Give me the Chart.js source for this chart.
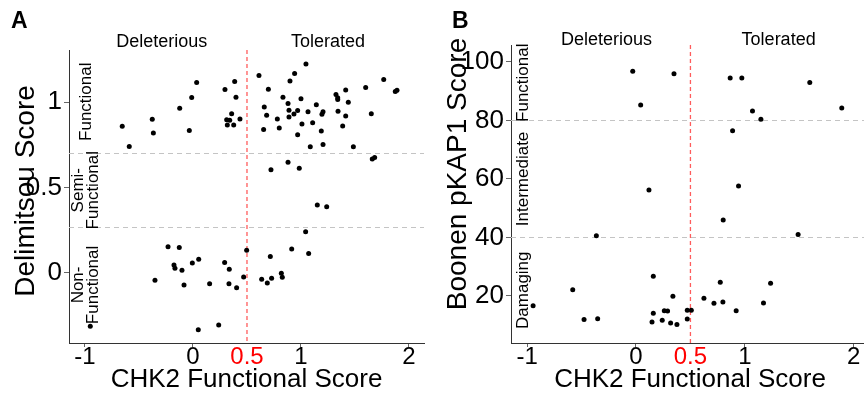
<!DOCTYPE html>
<html>
<head>
<meta charset="utf-8">
<script src="https://cdn.jsdelivr.net/npm/chart.js@4.4.1/dist/chart.umd.min.js"></script>
<style>
  html, body { margin:0; padding:0; background:#fff; overflow:hidden; width:864px; height:396px; }
  #wa { position:absolute; left:0; top:0; width:432px; height:396px; }
  #wb { position:absolute; left:432px; top:0; width:440px; height:396px; }
</style>
</head>
<body>
<div id="wa"><canvas id="ca" width="432" height="396"></canvas></div>
<div id="wb"><canvas id="cb" width="440" height="396"></canvas></div>
<script>
// ---------- DATA ----------
const aX = [-0.655,-0.59,-0.377,-0.367,-0.123,-0.034,-0.012,0.034,0.296,0.386,0.398,0.358,0.312,0.34,0.435,0.318,0.377,
  0.611,0.698,0.833,0.941,0.898,1.046,0.66,0.682,0.654,0.781,0.799,0.88,0.889,0.889,0.935,0.969,1.0,1.009,0.969,1.065,1.108,
  1.142,1.204,1.194,1.188,1.086,1.204,1.324,1.34,1.34,1.414,1.438,1.343,1.414,1.386,1.485,1.599,1.651,1.766,1.873,1.889,
  1.66,1.682,0.88,0.984,0.722,1.151,1.238,1.043,0.914,1.071,0.716,0.497,0.469,0.636,0.688,0.728,0.818,0.827,
  -0.231,-0.127,-0.176,-0.167,-0.102,-0.006,0.053,-0.352,-0.083,0.154,0.293,0.336,0.333,0.404,-0.951,0.049,0.238];
const aY = [0.859,0.741,0.90,0.82,0.965,0.834,1.028,1.116,1.075,1.122,1.029,0.933,0.898,0.894,0.902,0.867,0.867,
  1.157,1.076,1.029,1.169,1.125,1.224,0.972,0.924,0.841,0.902,0.849,0.992,0.953,0.914,0.931,0.951,1.02,0.872,0.81,0.945,0.88,
  0.986,0.945,0.929,0.831,0.739,0.753,1.045,1.027,1.016,1.072,1.0,0.947,0.919,0.861,0.739,1.086,0.933,1.133,1.063,1.071,
  0.667,0.676,0.649,0.614,0.604,0.398,0.388,0.241,0.141,0.114,0.096,0.133,-0.024,-0.037,-0.059,-0.031,-0.002,-0.025,
  0.153,0.149,0.047,0.028,0.016,0.059,0.08,-0.043,-0.071,-0.063,0.061,0.022,-0.063,-0.086,-0.312,-0.333,-0.304];

const bX = [-0.03,0.349,0.043,0.119,0.865,0.972,1.596,1.89,1.07,1.147,0.887,0.942,0.801,1.489,0.774,1.236,0.624,0.716,
  0.798,0.92,1.171,0.471,0.508,0.471,-0.364,0.159,-0.581,-0.945,-0.477,-0.352,0.339,0.159,0.26,0.29,0.147,0.241,0.318,0.376];
const bY = [96.8,96.0,85.3,56.2,94.5,94.5,93.0,84.3,83.2,80.4,76.5,57.6,46.0,41.0,24.7,24.3,19.2,17.5,
  17.9,14.9,17.6,15.1,15.1,12.1,40.6,26.7,22.1,16.6,11.9,12.2,19.9,14.1,14.9,14.8,11.1,11.7,10.7,10.2];

const xTicks = [-1, 0, 0.5, 1, 2];
const aYTicks = [0, 0.5, 1];
const bYTicks = [20, 40, 60, 80, 100];
const xCut = 0.5;
const aCuts = [0.7, 0.27];
const bCuts = [80, 40];
const aRegions = [ {lines:['Functional'], lo:0.7, hi:1.306}, {lines:['Semi-','Functional'], lo:0.27, hi:0.7}, {lines:['Non-','Functional'], lo:-0.41, hi:0.27} ];
const bRegions = [ {lines:['Functional'], lo:80, hi:105.8}, {lines:['Intermediate'], lo:40, hi:80}, {lines:['Damaging'], lo:3.9, hi:40} ];
const sideLabels = ['Deleterious', 'Tolerated'];

const FONT = "'Liberation Sans', Arial, sans-serif";

function toPts(xs, ys){ return xs.map((x,i)=>({x:x, y:ys[i]})); }

function makeChart(id, cfg){
  const overlay = {
    id:'overlay',
    beforeDatasetsDraw(chart){
      const {ctx, chartArea:ca, scales:{x, y}} = chart;
      ctx.save();
      // horizontal gray dashed lines
      ctx.strokeStyle = '#c4c4c4'; ctx.lineWidth = 1; ctx.setLineDash([5,4]);
      cfg.cuts.forEach(v=>{
        const py = Math.round(y.getPixelForValue(v))+0.5;
        ctx.beginPath(); ctx.moveTo(ca.left, py); ctx.lineTo(ca.right, py); ctx.stroke();
      });
      // vertical red dashed line
      ctx.strokeStyle = '#ff5c5c'; ctx.lineWidth = 1.3; ctx.setLineDash([4,3]);
      const px = x.getPixelForValue(xCut);
      ctx.beginPath(); ctx.moveTo(px, ca.top); ctx.lineTo(px, ca.bottom); ctx.stroke();
      ctx.setLineDash([]);
      // region labels (rotated)
      ctx.fillStyle = '#000';
      ctx.font = '17px ' + FONT;
      ctx.textAlign = 'center'; ctx.textBaseline = 'middle';
      cfg.regions.forEach(r=>{
        const cy = (y.getPixelForValue(r.lo) + y.getPixelForValue(r.hi))/2;
        const n = r.lines.length;
        r.lines.forEach((t, i)=>{
          const cx = ca.left + cfg.regionOffset + (i - (n-1)/2) * 15;
          ctx.save(); ctx.translate(cx, cy); ctx.rotate(-Math.PI/2);
          ctx.fillText(t, 0, 0); ctx.restore();
        });
      });
      // Deleterious / Tolerated
      ctx.font = '18px ' + FONT;
      ctx.fillText(sideLabels[0], x.getPixelForValue(cfg.sideX[0]), cfg.sideY);
      ctx.fillText(sideLabels[1], x.getPixelForValue(cfg.sideX[1]), cfg.sideY);
      // y axis title
      ctx.font = '28px ' + FONT;
      ctx.save(); ctx.translate(cfg.ytitleX, cfg.ytitleY); ctx.rotate(-Math.PI/2);
      ctx.fillText(cfg.ytitle, 0, 0); ctx.restore();
      // panel letter
      ctx.font = 'bold 23px ' + FONT;
      ctx.textAlign = 'left';
      ctx.fillText(cfg.letter, cfg.letterX, 22);
      ctx.restore();
    }
  };
  return new Chart(document.getElementById(id), {
    type:'scatter',
    data:{ datasets:[{ data: toPts(cfg.xs, cfg.ys), backgroundColor:'#000', borderColor:'#000', pointRadius:2.5, pointHoverRadius:2.5, borderWidth:0 }] },
    options:{
      responsive:false, animation:false, events:[],
      layout:{ padding:{ top:cfg.top, right:cfg.right, bottom:0, left:0 } },
      plugins:{ legend:{display:false}, tooltip:{enabled:false} },
      scales:{
        x:{
          type:'linear', min:-1.148, max:cfg.xmax,
          afterBuildTicks(s){ s.ticks = xTicks.map(v=>({value:v})); },
          afterFit(s){ s.height = 53; },
          border:{ display:true, color:'#333', width:1 },
          grid:{ drawOnChartArea:false, drawTicks:true, tickLength:4, tickColor:(c)=> (c.tick && c.tick.value===0.5) ? 'rgba(0,0,0,0)' : '#666' },
          ticks:{ font:{family:FONT, size:24}, color:(c)=> (c.tick && c.tick.value===0.5) ? '#ff0000' : '#000', padding:-4, maxRotation:0, autoSkip:false,
                  callback:(v)=> String(v) },
          title:{ display:true, text:'CHK2 Functional Score', font:{family:FONT, size:26}, color:'#000', padding:{top:0, bottom:1} }
        },
        y:{
          type:'linear', min:cfg.ymin, max:cfg.ymax,
          afterBuildTicks(s){ s.ticks = cfg.yTicks.map(v=>({value:v})); },
          afterFit(s){ s.width = cfg.yWidth; },
          border:{ display:true, color:'#333', width:1 },
          grid:{ drawOnChartArea:false, drawTicks:true, tickLength:5, tickColor:'#666' },
          ticks:{ font:{family:FONT, size:26}, color:'#000', padding:2, callback:(v)=> String(v) },
          title:{ display:false }
        }
      }
    },
    plugins:[overlay]
  });
}

makeChart('ca', { xs:aX, ys:aY, xmax:2.139, ymin:-0.41, ymax:1.306, yTicks:aYTicks, yWidth:69, top:50, right:8,
  cuts:aCuts, regions:aRegions, regionOffset:17, sideX:[-0.29, 1.25], sideY:42, letter:'A', letterX:11,
  ytitle:'Delimitsou Score', ytitleX:26, ytitleY:191 });
makeChart('cb', { xs:bX, ys:bY, xmax:2.14, ymin:3.9, ymax:105.8, yTicks:bYTicks, yWidth:79, top:45, right:3,
  cuts:bCuts, regions:bRegions, regionOffset:12, sideX:[-0.27, 1.31], sideY:40, letter:'B', letterX:20,
  ytitle:'Boonen pKAP1 Score', ytitleX:26, ytitleY:174 });
</script>
</body>
</html>
